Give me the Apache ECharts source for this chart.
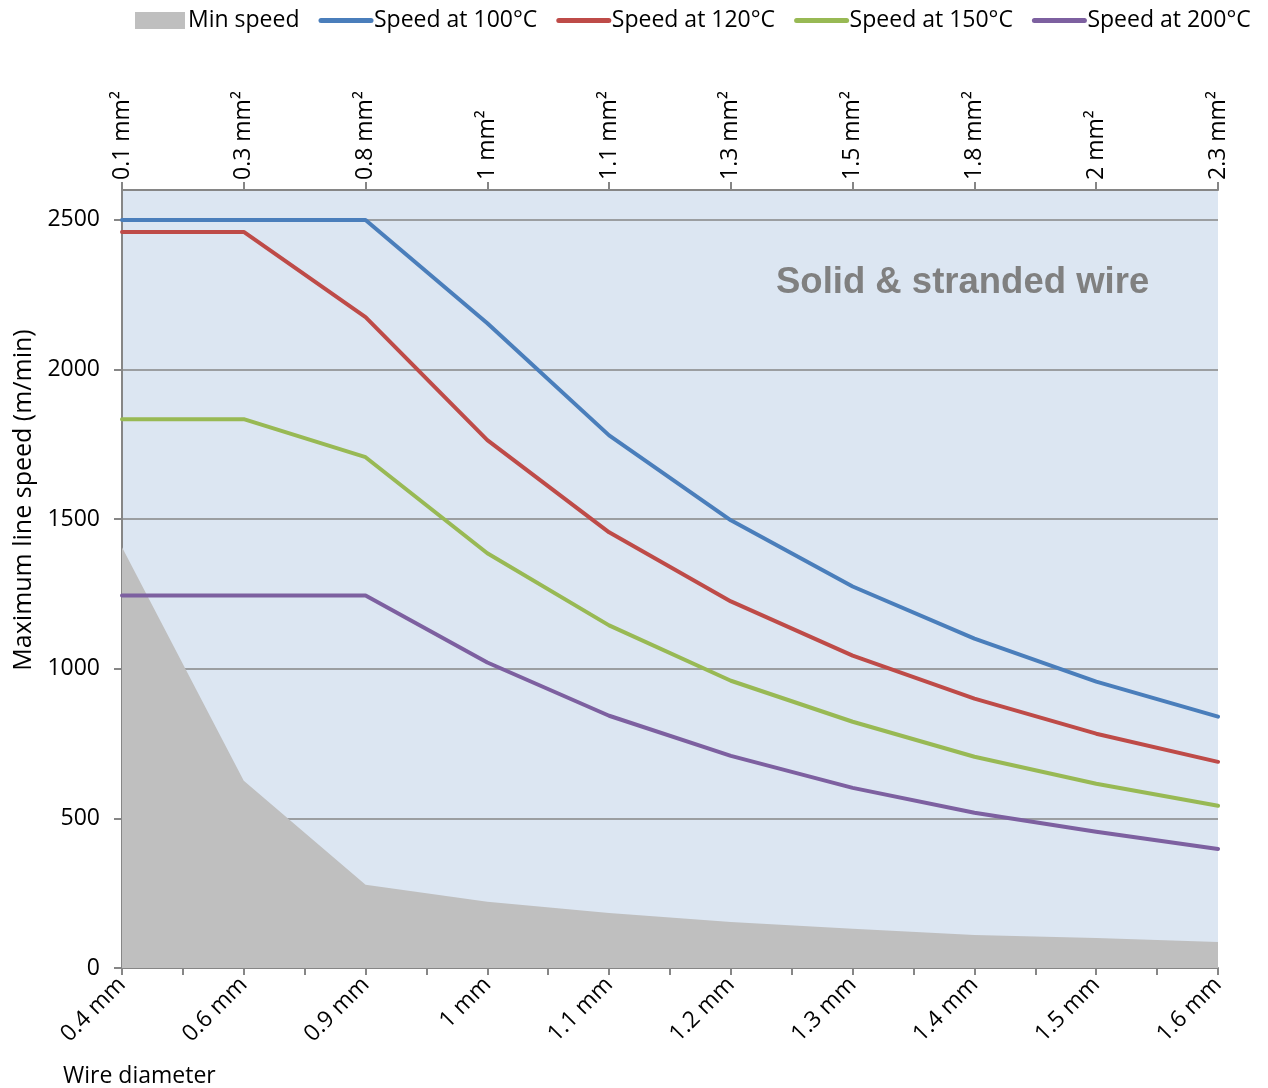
<!DOCTYPE html>
<html><head><meta charset="utf-8">
<script src="https://cdn.jsdelivr.net/npm/echarts@6/dist/echarts.min.js"></script>
<style>html,body{margin:0;padding:0;background:#fff}#c{width:1268px;height:1088px}</style>
</head><body><div id="c"></div>
<script>
const diameters = ['0.4 mm','0.6 mm','0.9 mm','1 mm','1.1 mm','1.2 mm','1.3 mm','1.4 mm','1.5 mm','1.6 mm'];
const sections = ['0.1 mm²','0.3 mm²','0.8 mm²','1 mm²','1.1 mm²','1.3 mm²','1.5 mm²','1.8 mm²','2 mm²','2.3 mm²'];
const minSpeed = [1406, 626, 278, 221, 184, 154, 131, 110, 100, 87];
const speed100 = [2500, 2500, 2500, 2155, 1780, 1496, 1275, 1101, 957, 840];
const speed120 = [2460, 2460, 2175, 1764, 1456, 1225, 1044, 900, 783, 689];
const speed150 = [1834, 1834, 1707, 1386, 1145, 960, 823, 706, 616, 542];
const speed200 = [1245, 1245, 1245, 1021, 843, 709, 602, 519, 455, 398];
const seriesNames = ['Min speed','Speed at 100°C','Speed at 120°C','Speed at 150°C','Speed at 200°C'];
const colors = ['#BFBFBF','#4A7EBB','#BE4B48','#98B954','#7D60A0'];
const yTicks = [0, 500, 1000, 1500, 2000, 2500];

// half-step tick positions for the minor ticks on the bottom axis
const halfTicks = [];
for (let i = 0; i < diameters.length * 2 - 1; i++) halfTicks.push(String(i));

const FONT = 'Open Sans';
const FS = 23;
const chart = echarts.init(document.getElementById('c'), null, {renderer: 'canvas'});
const lineSeries = (name, data, color) => ({
  name, type: 'line', data, xAxisIndex: 0, yAxisIndex: 0,
  symbol: 'none', smooth: false,
  lineStyle: {color, width: 4, cap: 'round', join: 'round'},
  itemStyle: {color},
  z: 3
});
chart.setOption({
  animation: false,
  textStyle: {fontFamily: FONT},
  legend: {
    top: 4, left: 130, itemGap: 19, itemWidth: 50, itemHeight: 17,
    textStyle: {fontFamily: FONT, fontSize: FS, color: '#000', padding: [0, 0, 0, -2]},
    itemStyle: {borderWidth: 0, opacity: 0},
    lineStyle: {width: 5, cap: 'round'},
    data: [
      {name: seriesNames[0], icon: 'rect', itemStyle: {opacity: 1, color: colors[0]}},
      seriesNames[1], seriesNames[2], seriesNames[3], seriesNames[4]
    ]
  },
  grid: {left: 122, right: 50, top: 190, bottom: 120, show: true, backgroundColor: '#DCE6F2', borderWidth: 0, outerBoundsMode: 'none'},
  xAxis: [
    {
      type: 'category', data: diameters, boundaryGap: false, position: 'bottom',
      axisLine: {show: true, lineStyle: {color: '#868686', width: 2}},
      axisTick: {show: false},
      axisLabel: {rotate: 45, fontFamily: FONT, fontSize: FS, color: '#000', margin: 13, interval: 0},
      splitLine: {show: false}
    },
    {
      type: 'category', data: sections, boundaryGap: false, position: 'top',
      axisLine: {show: true, lineStyle: {color: '#868686', width: 2}},
      axisTick: {show: true, length: 8, lineStyle: {color: '#868686', width: 2}, interval: 0},
      axisLabel: {rotate: -90, fontFamily: FONT, fontSize: FS, color: '#000', margin: 10, interval: 0},
      splitLine: {show: false}
    },
    {
      type: 'category', data: halfTicks, boundaryGap: false, position: 'bottom',
      axisLine: {show: false},
      axisTick: {show: true, length: 7, lineStyle: {color: '#868686', width: 2}, interval: 0},
      axisLabel: {show: false},
      splitLine: {show: false}
    }
  ],
  yAxis: {
    type: 'value', min: 0, max: 2600, interval: 500,
    axisLine: {show: true, lineStyle: {color: '#868686', width: 2}},
    axisTick: {show: true, length: 8, lineStyle: {color: '#868686', width: 2}, customValues: yTicks},
    axisLabel: {fontFamily: FONT, fontSize: FS, color: '#000', margin: 22, customValues: yTicks, formatter: v => String(v)},
    splitLine: {show: true, lineStyle: {color: ['#868686','#868686','#868686','#868686','#868686','#868686','rgba(0,0,0,0)'], width: 1.5}}
  },
  title: {
    text: 'Wire diameter', left: 58, top: 1060,
    textStyle: {fontFamily: FONT, fontSize: FS, fontWeight: 'normal', color: '#000'}
  },
  graphic: [
    {
      type: 'text', left: 776, top: 264, z: 10,
      style: {text: 'Solid & stranded wire', fontFamily: 'Liberation Sans', fontWeight: 'bold', fontSize: 36.5, fill: '#808080'}
    },
    {
      type: 'text', x: 24, y: 500, rotation: Math.PI / 2, z: 10,
      style: {text: 'Maximum line speed (m/min)', fontFamily: FONT, fontSize: 25, fill: '#000', align: 'center', verticalAlign: 'middle'}
    }
  ],
  series: [
    {
      name: seriesNames[0], type: 'line', data: minSpeed, xAxisIndex: 0, yAxisIndex: 0,
      symbol: 'none', lineStyle: {width: 0}, itemStyle: {color: colors[0]},
      areaStyle: {color: colors[0], opacity: 1}, z: 2
    },
    lineSeries(seriesNames[1], speed100, colors[1]),
    lineSeries(seriesNames[2], speed120, colors[2]),
    lineSeries(seriesNames[3], speed150, colors[3]),
    lineSeries(seriesNames[4], speed200, colors[4])
  ]
});
</script></body></html>
